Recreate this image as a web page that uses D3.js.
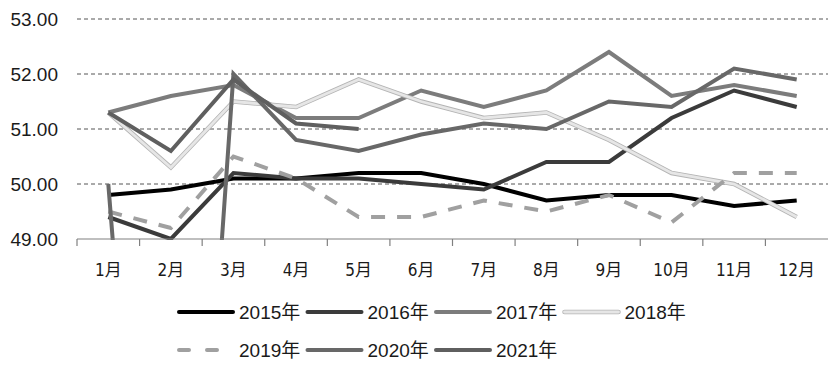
<!DOCTYPE html>
<html>
<head>
<meta charset="utf-8">
<script src="https://cdn.jsdelivr.net/npm/d3@7"></script>
<style>
  body { margin: 0; background: #fff; }
  svg { display: block; }
  .ylab { font-family: "Liberation Sans", Arial, sans-serif; font-size: 19px; fill: #1a1a1a; }
  .xlab { font-family: "Liberation Sans Narrow", "DejaVu Sans Condensed", "Noto Sans CJK SC", sans-serif; font-size: 17px; fill: #1a1a1a; }
  .leg { font-family: "Liberation Sans", "Noto Sans CJK SC", sans-serif; font-size: 19px; fill: #1a1a1a; }
</style>
</head>
<body>
<svg width="837" height="366"></svg>
<script>
var months = ["1月", "2月", "3月", "4月", "5月", "6月", "7月", "8月", "9月", "10月", "11月", "12月"];
var yTicks = [49, 50, 51, 52, 53];

var pmi2015 = [49.8, 49.9, 50.1, 50.1, 50.2, 50.2, 50.0, 49.7, 49.8, 49.8, 49.6, 49.7];
var pmi2016 = [49.4, 49.0, 50.2, 50.1, 50.1, 50.0, 49.9, 50.4, 50.4, 51.2, 51.7, 51.4];
var pmi2017 = [51.3, 51.6, 51.8, 51.2, 51.2, 51.7, 51.4, 51.7, 52.4, 51.6, 51.8, 51.6];
var pmi2018 = [51.3, 50.3, 51.5, 51.4, 51.9, 51.5, 51.2, 51.3, 50.8, 50.2, 50.0, 49.4];
var pmi2019 = [49.5, 49.2, 50.5, 50.1, 49.4, 49.4, 49.7, 49.5, 49.8, 49.3, 50.2, 50.2];
var pmi2020 = [50.0, 35.7, 52.0, 50.8, 50.6, 50.9, 51.1, 51.0, 51.5, 51.4, 52.1, 51.9];
var pmi2021 = [51.3, 50.6, 51.9, 51.1, 51.0];

var seriesNames = ["2015年", "2016年", "2017年", "2018年", "2019年", "2020年", "2021年"];
var seriesData = [pmi2015, pmi2016, pmi2017, pmi2018, pmi2019, pmi2020, pmi2021];

// look of each series (gray scale, 2018 is a light line with a gray edge)
var styles = [
    { color: "#000000" },
    { color: "#3b3b3b" },
    { color: "#7c7c7c" },
    { color: "#e6e6e6", edge: "#b4b4b4" },
    { color: "#a0a0a0", dash: "14,12" },
    { color: "#686868" },
    { color: "#5f5f5f" }
];

var svg = d3.select("svg");
var plotLeft = 77, plotRight = 828, plotTop = 19, plotBottom = 239;

var x = d3.scaleBand().domain(months).range([plotLeft, plotRight]);
var y = d3.scaleLinear().domain([49, 53]).range([plotBottom, plotTop]);

// dashed grid
svg.append("g")
    .selectAll("line")
    .data(yTicks.slice(1))
    .enter().append("line")
    .attr("x1", plotLeft).attr("x2", plotRight)
    .attr("y1", function (d) { return y(d); })
    .attr("y2", function (d) { return y(d); })
    .attr("stroke", "#555")
    .attr("stroke-width", 1)
    .attr("stroke-dasharray", "4,3");

// y labels
svg.append("g")
    .selectAll("text")
    .data(yTicks)
    .enter().append("text")
    .attr("class", "ylab")
    .attr("x", 58)
    .attr("y", function (d) { return y(d); })
    .attr("dy", "0.36em")
    .attr("text-anchor", "end")
    .text(function (d) { return d.toFixed(2); });

// clip for lines
svg.append("clipPath").attr("id", "plot")
    .append("rect")
    .attr("x", plotLeft).attr("y", 0)
    .attr("width", plotRight - plotLeft).attr("height", plotBottom + 1);

var line = d3.line()
    .x(function (d, i) { return x(months[i]) + x.bandwidth() / 2; })
    .y(function (d) { return y(d); });

var lines = svg.append("g").attr("clip-path", "url(#plot)");
seriesData.forEach(function (vals, k) {
    var st = styles[k];
    if (st.edge) {
        lines.append("path")
            .attr("d", line(vals))
            .attr("fill", "none")
            .attr("stroke", st.edge)
            .attr("stroke-width", 4.5);
    }
    lines.append("path")
        .attr("d", line(vals))
        .attr("fill", "none")
        .attr("stroke", st.color)
        .attr("stroke-width", st.edge ? 2.8 : 4)
        .attr("stroke-dasharray", st.dash || null);
});

// x axis
var xa = svg.append("g");
xa.append("line")
    .attr("x1", plotLeft).attr("x2", plotRight)
    .attr("y1", plotBottom).attr("y2", plotBottom)
    .attr("stroke", "#808080").attr("stroke-width", 1.2);
xa.selectAll(".tk")
    .data(months)
    .enter().append("line")
    .attr("x1", function (d) { return x(d); })
    .attr("x2", function (d) { return x(d); })
    .attr("y1", plotBottom).attr("y2", plotBottom + 7)
    .attr("stroke", "#808080").attr("stroke-width", 1.2);
xa.selectAll("text")
    .data(months)
    .enter().append("text")
    .attr("class", "xlab")
    .attr("x", function (d) { return x(d) + x.bandwidth() / 2; })
    .attr("y", 276)
    .attr("text-anchor", "middle")
    .text(function (d) { return d; });

// legend, 4 per row
var legG = svg.append("g");
seriesNames.forEach(function (name, k) {
    var st = styles[k];
    var lx = 179 + (k % 4) * 128.5;
    var ly = k < 4 ? 312 : 350;
    if (st.edge) {
        legG.append("line")
            .attr("x1", lx).attr("x2", lx + 54)
            .attr("y1", ly).attr("y2", ly)
            .attr("stroke", st.edge).attr("stroke-width", 4.5)
            .attr("stroke-linecap", "round");
    }
    legG.append("line")
        .attr("x1", lx).attr("x2", lx + 54)
        .attr("y1", ly).attr("y2", ly)
        .attr("stroke", st.color)
        .attr("stroke-width", st.edge ? 2.8 : 4)
        .attr("stroke-linecap", "round")
        .attr("stroke-dasharray", st.dash ? "10,18" : null);
    legG.append("text")
        .attr("class", "leg")
        .attr("x", lx + 60)
        .attr("y", ly)
        .attr("dy", "0.35em")
        .text(name);
});
</script>
</body>
</html>
